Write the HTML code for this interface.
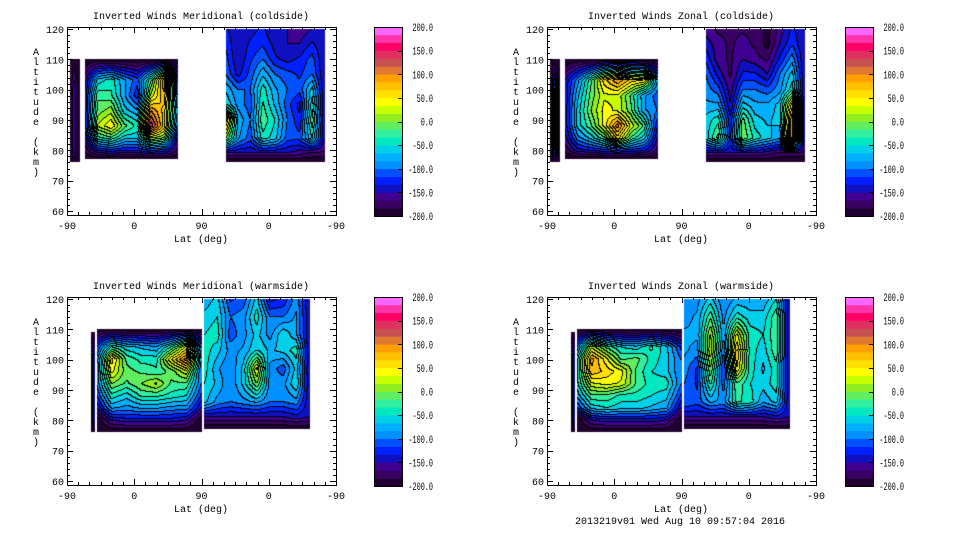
<!DOCTYPE html>
<html><head><meta charset="utf-8">
<style>
html,body{margin:0;padding:0;background:#fff;}
#root{position:relative;width:960px;height:540px;overflow:hidden;background:#fff;font-family:"Liberation Mono",monospace;}
canvas{position:absolute;}
svg{position:absolute;left:0;top:0;}
</style></head>
<body>
<div id="root">
<svg id="svg" width="960" height="540"></svg>
</div>
<script>
// ---- shared scale data ----
const levelMin = -200, levelMax = 200, nBands = 24;
const bandColors = ["#200030","#380060","#400090","#1010c0","#0020ff","#0050ff","#0090ff","#00b0ff","#00d0e8","#00e8c0","#30f0a0","#60ee60","#90ee20","#c8ff00","#ffff00","#ffe000","#ffc000","#ffa000","#e07830","#c85050","#e03060","#ff0066","#ff33aa","#ff66ff"];
const cbTickLabels = ["200.0","150.0","100.0","50.0","0.0","-50.0","-100.0","-150.0","-200.0"];
const cbTickValues = [200,150,100,50,0,-50,-100,-150,-200];
const xTickLabels = ["-90","0","90","0","-90"];
const xTickValues = [0,90,180,270,360];
const yTickValues = [60,70,80,90,100,110,120];

// ---- panel: meridional coldside ----
const tlA_ext = [4,17]; const tlA_alts = [76,80,100,110];
const tlA_vals = [[-200,-200,-200],[-200,-150,-200],[-200,-150,-200],[-200,-200,-200]];
const tlB_ext = [24,148]; const tlB_alts = [77,80,84,88,93,98,103,110];
const tlB_vals = [
[-200,-200,-200,-200,-200,-200,-200,-200],
[-180,-130,-120,-130,-130,-110,-120,-170],
[-160,-40,-20,-60,-60,20,0,-150],
[-150,20,50,-10,-40,150,60,-100],
[-150,-10,10,-60,-80,100,60,-80],
[-150,-20,-30,-80,-130,20,80,-100],
[-160,-60,-40,-80,-110,-20,100,-120],
[-200,-200,-200,-200,-200,-200,-200,-200]];
const tlC_ext = [213,345]; const tlC_alts = [76,79,84,90,95,100,105,110,115,120];
const tlC_vals = [
[-200,-200,-200,-200,-200,-200,-200,-200,-200],
[-150,-150,-150,-150,-150,-150,-160,-170,-170],
[0,-80,-110,-40,-60,-110,-110,-50,-150],
[80,-70,-100,-20,-50,-100,-130,-20,-150],
[-50,-90,-110,-30,-70,-110,-140,-40,-150],
[-70,-100,-100,-40,-80,-100,-110,-60,-150],
[-100,-140,-110,-70,-100,-110,-120,-100,-150],
[-110,-150,-120,-100,-130,-140,-130,-110,-150],
[-120,-150,-130,-120,-140,-150,-150,-130,-150],
[-130,-150,-140,-130,-150,-150,-160,-150,-150]];

// ---- panel: zonal coldside ----
const trA_ext = [4,17]; const trA_alts = [76,80,100,110];
const trA_vals = [[-200,-200,-200],[-200,-90,-200],[-200,-90,-200],[-200,-200,-200]];
const trB_ext = [24,148]; const trB_alts = [77,80,84,88,93,98,103,110];
const trB_vals = [
[-200,-200,-200,-200,-200,-200,-200,-200],
[-180,-140,-130,-120,-110,-120,-130,-170],
[-160,-90,-60,-20,60,-20,-60,-150],
[-150,-60,-20,40,110,30,-20,-130],
[-150,-60,0,40,30,-10,-80,-100],
[-150,-70,-10,30,30,-20,-80,-110],
[-150,-90,-20,60,100,60,50,-80],
[-200,-200,-200,-200,-200,-200,-200,-200]];
const trC_ext = [213,345]; const trC_alts = [76,79,84,90,95,100,105,110,115,120];
const trC_vals = [
[-200,-200,-200,-200,-200,-200,-200,-200,-200],
[-150,-150,-150,-150,-150,-160,-170,-170,-170],
[-60,-10,-120,0,-40,-60,-80,100,-150],
[-60,-40,-130,-10,-60,-70,-60,100,-150],
[-80,-80,-150,-60,-80,-80,-60,60,-150],
[-90,-110,-160,-100,-100,-110,-90,-40,-150],
[-100,-140,-170,-130,-130,-150,-100,-60,-150],
[-120,-160,-170,-150,-160,-170,-130,-90,-150],
[-140,-160,-170,-160,-170,-190,-150,-120,-150],
[-160,-170,-170,-170,-170,-190,-160,-130,-150]];

// ---- panel: meridional warmside ----
const blA_ext = [32,38]; const blA_alts = [76,80,100,109];
const blA_vals = [[-200,-200,-200],[-200,-40,-200],[-200,-40,-200],[-200,-200,-200]];
const blB_ext = [40,180]; const blB_alts = [76,80,84,88,92,96,100,104,110];
const blB_vals = [
[-200,-200,-200,-200,-200,-200,-200,-200],
[-200,-150,-140,-140,-140,-140,-150,-200],
[-150,-80,-90,-80,-80,-90,-90,-150],
[-120,-40,-60,-30,-30,-40,-50,-120],
[-100,0,-20,0,20,-20,-20,-100],
[-100,40,-10,-20,-30,-10,30,-100],
[-100,60,-20,-40,-40,50,110,-80],
[-120,-30,-60,-70,-80,-30,40,-100],
[-200,-200,-200,-200,-200,-200,-200,-200]];
const blC_ext = [184,325]; const blC_alts = [77,81,86,92,97,103,108,114,120];
const blC_vals = [
[-200,-200,-200,-200,-200,-200,-200,-200,-200],
[-150,-150,-150,-150,-150,-150,-150,-140,-150],
[-60,-90,-100,-90,-80,-100,-100,-90,-150],
[-50,-70,-100,-60,0,-90,-90,-50,-150],
[-40,-80,-100,-60,40,-90,-110,-60,-150],
[-40,-60,-90,-80,-50,-70,-60,-40,-150],
[-50,-40,-110,-90,-60,-90,-50,-80,-150],
[-60,-50,-100,-90,-40,-100,-100,-80,-150],
[-80,-60,-120,-110,-60,-140,-130,-90,-150]];

// ---- panel: zonal warmside ----
const brA_ext = [32,38]; const brA_alts = [76,80,100,109];
const brA_vals = [[-200,-200,-200],[-200,-40,-200],[-200,-40,-200],[-200,-200,-200]];
const brB_ext = [40,180]; const brB_alts = [76,80,84,88,92,96,100,104,110];
const brB_vals = [
[-200,-200,-200,-200,-200,-200,-200,-200],
[-200,-150,-140,-140,-140,-140,-150,-200],
[-120,-60,-50,-60,-60,-70,-80,-150],
[-80,-20,-20,-40,-40,-50,-60,-120],
[-60,30,40,30,-20,-40,-40,-100],
[-60,80,60,40,-20,-50,-60,-100],
[-60,90,40,-20,-10,-40,-60,-100],
[-100,30,-20,-50,-60,-30,-60,-120],
[-200,-200,-200,-200,-200,-200,-200,-200]];
const brC_ext = [184,325]; const brC_alts = [77,81,86,92,97,103,108,114,120];
const brC_vals = [
[-200,-200,-200,-200,-200,-200,-200,-200,-200],
[-150,-150,-150,-150,-150,-150,-150,-140,-150],
[-100,-110,-80,-90,-30,-40,-80,-60,-150],
[-100,-120,-30,-110,-20,-50,-60,-40,-150],
[-90,-120,0,-120,50,-40,-70,-40,-150],
[-80,-90,30,-100,70,-40,-60,-20,-150],
[-80,-80,20,-80,40,-40,-50,-20,-150],
[-90,-80,-20,-90,-40,-60,-60,-20,-150],
[-100,-90,-60,-100,-80,-80,-80,-50,-150]];

const panels = [
 {ox:0,oy:0,title:"Inverted Winds Meridional (coldside)",name:"meridional-coldside",blocks:[[tlA_ext,tlA_alts,tlA_vals],[tlB_ext,tlB_alts,tlB_vals],[tlC_ext,tlC_alts,tlC_vals]]},
 {ox:480,oy:0,title:"Inverted Winds Zonal (coldside)",name:"zonal-coldside",blocks:[[trA_ext,trA_alts,trA_vals],[trB_ext,trB_alts,trB_vals],[trC_ext,trC_alts,trC_vals]]},
 {ox:0,oy:270,title:"Inverted Winds Meridional (warmside)",name:"meridional-warmside",blocks:[[blA_ext,blA_alts,blA_vals],[blB_ext,blB_alts,blB_vals],[blC_ext,blC_alts,blC_vals]]},
 {ox:480,oy:270,title:"Inverted Winds Zonal (warmside)",name:"zonal-warmside",blocks:[[brA_ext,brA_alts,brA_vals],[brB_ext,brB_alts,brB_vals],[brC_ext,brC_alts,brC_vals]]}
];

const PL=67, PR=336, PT=27, PB=215, Y120=29, KM=3.033;
function xScale(c){return PL + c*(PR-PL)/360;}
function yScale(a){return Y120 + (120-a)*KM;}
function cbY(v){return 27 + (200-v)*(216-27)/400;}
function band(v){let b=Math.floor((v-levelMin)/((levelMax-levelMin)/nBands));return Math.max(0,Math.min(nBands-1,b));}
function hex(h){return [parseInt(h.substr(1,2),16),parseInt(h.substr(3,2),16),parseInt(h.substr(5,2),16)];}
const rgb = bandColors.map(hex);

function sample(blocks,c,a){
  for(const [ext,alts,vals] of blocks){
    if(c<ext[0]||c>ext[1]||a<alts[0]||a>alts[alts.length-1]) continue;
    const nc=vals[0].length;
    const fx=(c-ext[0])/(ext[1]-ext[0])*(nc-1);
    let i=Math.min(nc-2,Math.floor(fx)); const tx=fx-i;
    let j=0; while(j<alts.length-2 && a>alts[j+1]) j++;
    const ty=(a-alts[j])/(alts[j+1]-alts[j]);
    const v0=vals[j][i]*(1-tx)+vals[j][i+1]*tx;
    const v1=vals[j+1][i]*(1-tx)+vals[j+1][i+1]*tx;
    return v0*(1-ty)+v1*ty;
  }
  return null;
}

const NS="http://www.w3.org/2000/svg";
const svg=document.getElementById('svg');
function el(tag,attrs,parent){const e=document.createElementNS(NS,tag);for(const k in attrs)e.setAttribute(k,attrs[k]);(parent||svg).appendChild(e);return e;}
function txt(x,y,s,anchor,parent){const t=el('text',{x:x,y:y,'text-anchor':anchor||'middle','font-family':'Liberation Mono, monospace','font-size':'10',fill:'#000'},parent);t.textContent=s;return t;}

const root=document.getElementById('root');
panels.forEach(p=>{
  const W=PR-PL, H=PB-PT;
  const cv=document.createElement('canvas');
  cv.width=W; cv.height=H;
  cv.style.left=(p.ox+PL)+'px'; cv.style.top=(p.oy+PT)+'px';
  
  
  root.insertBefore(cv, svg);
  const ctx=cv.getContext('2d');
  const img=ctx.createImageData(W,H);
  const bands=new Int16Array(W*H).fill(-1);
  for(let py=0;py<H;py++){
    const a=120-(PT+py+0.5-Y120)/KM;
    for(let px=0;px<W;px++){
      const c=(px+0.5)*360/W;
      const v=sample(p.blocks,c,a);
      if(v!==null) bands[py*W+px]=band(v);
    }
  }
  for(let py=0;py<H;py++){
    for(let px=0;px<W;px++){
      const k=py*W+px, b=bands[k], o=k*4;
      if(b<0){img.data[o]=255;img.data[o+1]=255;img.data[o+2]=255;img.data[o+3]=255;continue;}
      let edge=false;
      if(px+1<W && bands[k+1]>=0 && bands[k+1]!==b) edge=true;
      if(py+1<H && bands[k+W]>=0 && bands[k+W]!==b) edge=true;
      const col=edge?[0,0,0]:rgb[b];
      img.data[o]=col[0];img.data[o+1]=col[1];img.data[o+2]=col[2];img.data[o+3]=255;
    }
  }
  ctx.putImageData(img,0,0);

  const g=el('g',{transform:'translate('+p.ox+','+p.oy+')'});
  
  
  const t=txt(201,19,p.title,'middle',g);
  
  
  el('rect',{x:PL+0.5,y:PT+0.5,width:PR-PL,height:PB-PT,fill:'none',stroke:'#000','stroke-width':1},g);
  for(let c=0;c<=360;c+=15){
    const x=Math.round(xScale(c))+0.5, L=(c%90===0)?6:3;
    el('line',{x1:x,y1:PB,x2:x,y2:PB-L,stroke:'#000'},g);
    el('line',{x1:x,y1:PT,x2:x,y2:PT+L,stroke:'#000'},g);
  }
  xTickValues.forEach((c,i)=>{const tt=txt(xScale(c),229,xTickLabels[i],'middle',g);
    
    });
  const xl=txt(201,242,'Lat (deg)','middle',g);
  
  
  for(let a=60;a<=120;a+=2){
    const y=Math.round(yScale(a))+0.5, L=(a%10===0)?6:3;
    el('line',{x1:PL,y1:y,x2:PL+L,y2:y,stroke:'#000'},g);
    el('line',{x1:PR,y1:y,x2:PR-L,y2:y,stroke:'#000'},g);
  }
  yTickValues.forEach(a=>{const tt=txt(64,yScale(a)+4,String(a),'end',g);
    
    });
  const yt=el('text',{'font-family':'Liberation Mono, monospace','font-size':'10',fill:'#000'},g);
  
  
  'Altitude (km)'.split('').forEach((ch,i)=>{const s=el('tspan',{x:36,y:55+i*10,'text-anchor':'middle'},yt);s.textContent=ch===' '?'\u00a0':ch;});
  const cb=el('g',{},g);
  
  
  const cbx = p.ox===0?374:365;
  for(let b=0;b<nBands;b++){
    const v0=levelMin+b*(levelMax-levelMin)/nBands, v1=v0+(levelMax-levelMin)/nBands;
    el('rect',{x:cbx,y:cbY(v1),width:28,height:cbY(v0)-cbY(v1)+0.3,fill:bandColors[b]},cb);
  }
  el('rect',{x:cbx+0.5,y:27.5,width:28,height:189,fill:'none',stroke:'#000'},cb);
  cbTickValues.forEach((v,i)=>{
    const y=Math.round(cbY(v))+0.5;
    el('line',{x1:cbx+24,y1:y,x2:cbx+28,y2:y,stroke:'#000'},cb);
    const s=cbTickLabels[i];
    const tt=el('text',{x:cbx+59,y:cbY(v)+4,'text-anchor':'end','font-family':'Liberation Mono, monospace','font-size':'11',fill:'#000',textLength:s.length*4.1,lengthAdjust:'spacingAndGlyphs'},cb);
    tt.textContent=s;
    
    
  });
});
const stamp=txt(680,524,'2013219v01 Wed Aug 10 09:57:04 2016','middle');


</script>
</body></html>
